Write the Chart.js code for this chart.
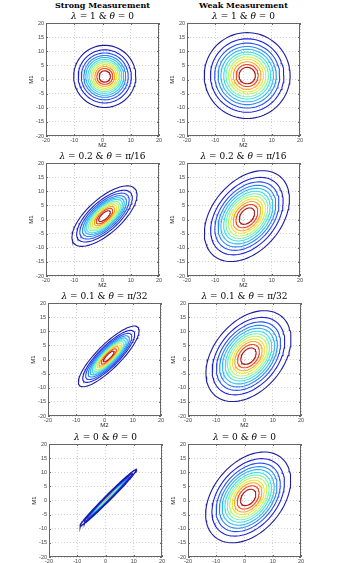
<!DOCTYPE html>
<html><head><meta charset="utf-8">
<script src="https://cdn.jsdelivr.net/npm/chart.js@4.4.0/dist/chart.umd.min.js"></script>
<style>
html,body{margin:0;padding:0;background:#fff;width:359px;height:563px;overflow:hidden;position:relative}
canvas{position:absolute}
.t{position:absolute;font-family:"DejaVu Serif",serif;color:#000;white-space:nowrap;transform:translate(-50%,-50%);line-height:1}
.col{font-weight:bold;font-size:8px}
.sub{font-size:9px}
</style></head><body>
<script>
// column and panel titles
const columnTitles=['Strong Measurement','Weak Measurement'];
const panelTitles=['λ = 1 & θ = 0','λ = 0.2 & θ = π/16','λ = 0.1 & θ = π/32','λ = 0 & θ = 0'];
const xTicks=[-20,-10,0,10,20];
const yTicks=[-20,-15,-10,-5,0,5,10,15,20];

// contour colours, outer level first (jet)
const levelColors=['#1c1c9e','#1f1fdc','#2450f2','#2a86f7','#33b6f6','#3cdfe6','#7cf2b4','#bdf46c','#ece43a','#f8a62a','#ef4a20','#a81c1c'];

// strong measurement: centre, tilt (deg), minor/major ratio, major semi-axis per level
const strongCenters=[[0.8,1.1],[0.7,1.2],[1.5,1.1],[1,1]];
const strongAngles=[0,42,45,45];
const strongRatios=[1,0.42,0.29,0.07];
const strongRadii=[
 [11.0,9.4,8.3,7.4,6.7,6.0,5.4,4.8,4.2,3.5,2.8,2.0],
 [14.5,12.4,11.0,9.8,8.8,8.0,7.1,6.3,5.5,4.6,3.7,2.6],
 [14.6,12.5,11.1,9.9,8.9,8.0,7.2,6.4,5.5,4.7,3.7,2.6],
 [14.1,12.0,10.6,9.5,8.5,7.6,6.8,6.0,5.2,4.4,3.5,2.5]
];
// weak measurement
const weakCenters=[[1.3,1.4],[1.2,1.2],[1.4,1.2],[1.3,1.1]];
const weakAngles=[0,50,50,50];
const weakRatios=[1,0.67,0.67,0.67];
const weakRadii=[
 [15.2,13.0,11.5,10.3,9.3,8.3,7.5,6.6,5.8,4.9,3.9,2.9],
 [18.3,15.6,13.8,12.4,11.2,10.0,9.0,8.0,6.9,5.9,4.7,3.3],
 [18.3,15.6,13.8,12.4,11.2,10.0,9.0,8.0,6.9,5.9,4.7,3.3],
 [18.3,15.6,13.8,12.4,11.2,10.0,9.0,8.0,6.9,5.9,4.7,3.3]
];

// layout
const boxLeft=[[46,187],[46,187],[48,188],[49,188]];
const boxTop=[23,163,303,444];
const SIZE=113, PL=18, PT=4, PR=5, PB=13;

function ellipse(c,a,b,deg){
 const r=deg*Math.PI/180,pts=[];
 for(let i=0;i<=96;i++){
  const t=i/96*2*Math.PI,u=a*Math.cos(t),v=b*Math.sin(t);
  pts.push({x:c[0]+u*Math.cos(r)-v*Math.sin(r),y:c[1]+u*Math.sin(r)+v*Math.cos(r)});
 }
 return pts;
}

const boxPlugin={
 id:'box',
 afterDraw(chart){
  const {ctx,chartArea:a,scales}=chart;
  ctx.save();
  ctx.strokeStyle='#666';ctx.lineWidth=1;
  ctx.strokeRect(a.left+0.5,a.top+0.5,a.right-a.left-1,a.bottom-a.top-1);
  ctx.beginPath();
  xTicks.forEach(v=>{const x=Math.round(scales.x.getPixelForValue(v))+0.5;
   ctx.moveTo(x,a.bottom);ctx.lineTo(x,a.bottom-2);ctx.moveTo(x,a.top);ctx.lineTo(x,a.top+2);});
  yTicks.forEach(v=>{const y=Math.round(scales.y.getPixelForValue(v))+0.5;
   ctx.moveTo(a.left,y);ctx.lineTo(a.left+2,y);ctx.moveTo(a.right,y);ctx.lineTo(a.right-2,y);});
  ctx.stroke();
  ctx.restore();
 }
};

function addText(cls,html,x,y){
 const d=document.createElement('div');
 d.className='t '+cls;d.innerHTML=html;
 d.style.left=x+'px';d.style.top=y+'px';
 document.body.appendChild(d);
}
const mathHtml=s=>s.replace(/&/g,'&amp;').replace(/([λθ])/g,'<i>$1</i>');

const tickFont={family:'"Liberation Sans",Arial,sans-serif',size:5.5};
const labelFont={family:'"Liberation Sans",Arial,sans-serif',size:6};

function panel(row,col,center,angle,ratio,radii){
 const L=boxLeft[row][col],T=boxTop[row];
 const cv=document.createElement('canvas');
 cv.width=SIZE+PL+PR;cv.height=SIZE+PT+PB;
 cv.style.left=(L-PL)+'px';cv.style.top=(T-PT)+'px';
 document.body.appendChild(cv);
 const datasets=radii.map((a,i)=>({
  data:ellipse(center,a,a*ratio,angle),
  showLine:true,borderColor:levelColors[i],borderWidth:ratio<0.1?1.4:1.1,
  pointRadius:0,fill:false,tension:0
 }));
 new Chart(cv,{
  type:'scatter',
  data:{datasets},
  options:{
   responsive:false,animation:false,events:[],
   layout:{padding:{left:0,top:PT,right:PR,bottom:0}},
   plugins:{legend:{display:false},tooltip:{enabled:false}},
   scales:{
    x:{type:'linear',min:-20,max:20,
     afterBuildTicks:s=>{s.ticks=xTicks.map(v=>({value:v}));},
     afterFit:s=>{s.height=PB;s.paddingLeft=0;s.paddingRight=0;},
     ticks:{font:tickFont,color:'#444',padding:1,maxRotation:0,autoSkip:false},
     grid:{color:'#d2d2d2',drawTicks:false},
     border:{display:false,dash:[1,2]},
     title:{display:true,text:'M2',font:labelFont,color:'#222',padding:0}},
    y:{type:'linear',min:-20,max:20,
     afterBuildTicks:s=>{s.ticks=yTicks.map(v=>({value:v}));},
     afterFit:s=>{s.width=PL;s.paddingTop=0;s.paddingBottom=0;},
     ticks:{font:tickFont,color:'#444',padding:2,autoSkip:false},
     grid:{color:'#d2d2d2',drawTicks:false},
     border:{display:false,dash:[1,2]},
     title:{display:true,text:'M1',font:labelFont,color:'#222',padding:0}}
   }
  },
  plugins:[boxPlugin]
 });
 addText('sub',mathHtml(panelTitles[row]),L+SIZE/2,T-7);
}

addText('col',columnTitles[0],boxLeft[0][0]+SIZE/2,5);
addText('col',columnTitles[1],boxLeft[0][1]+SIZE/2,5);
for(let r=0;r<4;r++){
 panel(r,0,strongCenters[r],strongAngles[r],strongRatios[r],strongRadii[r]);
 panel(r,1,weakCenters[r],weakAngles[r],weakRatios[r],weakRadii[r]);
}
</script></body></html>
